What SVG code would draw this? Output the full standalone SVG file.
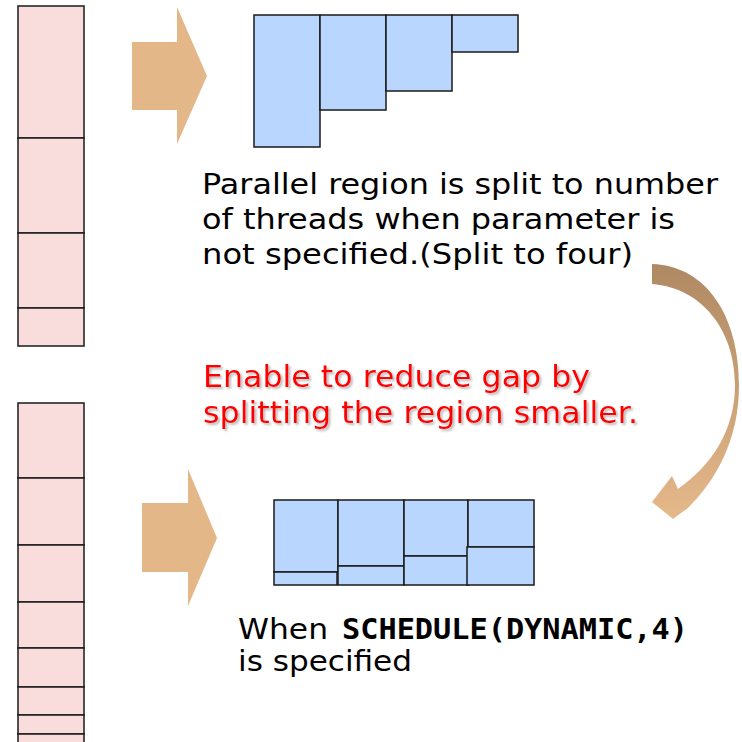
<svg xmlns="http://www.w3.org/2000/svg" width="742" height="742" viewBox="0 0 742 742">
  <defs>
    <style>
      .task { fill: #F9DDDD; stroke: #1a1a1a; stroke-width: 1.5; }
      .chunk { fill: #B8D6FE; stroke: #1a1a1a; stroke-width: 1.5; }
      .block-arrow { fill: #E4B789; }
      .body { font-family: "DejaVu Sans", Verdana, sans-serif; font-size: 29px; fill: #000; }
      .note { font-family: "DejaVu Sans", Verdana, sans-serif; font-size: 31px; fill: #FF0000; }
      .code { font-family: "DejaVu Sans Mono", "Liberation Mono", monospace; font-size: 28.5px; font-weight: bold; fill: #000; }
    </style>
    <linearGradient id="curveFill" gradientUnits="userSpaceOnUse" x1="0" y1="264" x2="0" y2="520">
      <stop offset="0" stop-color="#AF8963"/>
      <stop offset="1" stop-color="#E6B98A"/>
    </linearGradient>
    <filter id="softShadow" x="-5%" y="-20%" width="110%" height="140%">
      <feDropShadow dx="2" dy="2" stdDeviation="1" flood-color="#808080" flood-opacity="0.55"/>
    </filter>
  </defs>

  <!-- loop iterations, default split -->
  <g id="iterations-default">
    <rect class="task" x="18" y="6" width="66" height="132"/>
    <rect class="task" x="18" y="138" width="66" height="95"/>
    <rect class="task" x="18" y="233" width="66" height="75"/>
    <rect class="task" x="18" y="308" width="66" height="38"/>
  </g>

  <!-- loop iterations, dynamic split -->
  <g id="iterations-dynamic">
    <rect class="task" x="18" y="403" width="66" height="75"/>
    <rect class="task" x="18" y="478" width="66" height="67"/>
    <rect class="task" x="18" y="545" width="66" height="57"/>
    <rect class="task" x="18" y="602" width="66" height="46"/>
    <rect class="task" x="18" y="648" width="66" height="39"/>
    <rect class="task" x="18" y="687" width="66" height="28"/>
    <rect class="task" x="18" y="715" width="66" height="19"/>
    <rect class="task" x="18" y="734" width="66" height="20"/>
  </g>

  <!-- per-thread work, default split -->
  <g id="threads-default">
    <rect class="chunk" x="254" y="15" width="66" height="132"/>
    <rect class="chunk" x="320" y="15" width="66" height="95"/>
    <rect class="chunk" x="386" y="15" width="66" height="76"/>
    <rect class="chunk" x="452" y="15" width="66" height="37"/>
  </g>

  <!-- per-thread work, dynamic split -->
  <g id="threads-dynamic">
    <rect class="chunk" x="274" y="500" width="64" height="72"/>
    <rect class="chunk" x="274" y="572" width="63" height="13"/>
    <rect class="chunk" x="338" y="500" width="66" height="66"/>
    <rect class="chunk" x="338" y="566" width="66" height="19"/>
    <rect class="chunk" x="404" y="500" width="64" height="56"/>
    <rect class="chunk" x="404" y="556" width="65" height="29"/>
    <rect class="chunk" x="468" y="500" width="66" height="47"/>
    <rect class="chunk" x="467" y="547" width="67" height="38"/>
  </g>

  <!-- connectors -->
  <g id="connectors">
    <polygon class="block-arrow" points="132,42 177,42 177,7 207,76 177,144 177,110 132,110"/>
    <polygon class="block-arrow" points="142,503 188,503 188,469 217,538 188,606 188,572 142,572"/>
    <path fill="url(#curveFill)" d="M652,264 C708,266 739,318 739,385 C739,440 716,480 688,508 L673,519 L652,502 L672,476 L678,489 C712,465 735,430 735,385 C735,330 702,288 652,284 Z"/>
  </g>

  <!-- captions -->
  <g id="caption-default">
    <text class="body" x="202" y="194" textLength="516" lengthAdjust="spacingAndGlyphs">Parallel region is split to number</text>
    <text class="body" x="202" y="229" textLength="473" lengthAdjust="spacingAndGlyphs">of threads when parameter is</text>
    <text class="body" x="202" y="264" textLength="431" lengthAdjust="spacingAndGlyphs">not specified.(Split to four)</text>
  </g>

  <g id="caption-note" filter="url(#softShadow)">
    <text class="note" x="203" y="387" textLength="387" lengthAdjust="spacingAndGlyphs">Enable to reduce gap by</text>
    <text class="note" x="203" y="423" textLength="435" lengthAdjust="spacingAndGlyphs">splitting the region smaller.</text>
  </g>

  <g id="caption-dynamic">
    <text class="body" x="238" y="639" textLength="90" lengthAdjust="spacingAndGlyphs">When</text>
    <text class="code" x="342" y="639" textLength="346" lengthAdjust="spacingAndGlyphs">SCHEDULE(DYNAMIC,4)</text>
    <text class="body" x="238" y="671" textLength="174" lengthAdjust="spacingAndGlyphs">is specified</text>
  </g>
</svg>
